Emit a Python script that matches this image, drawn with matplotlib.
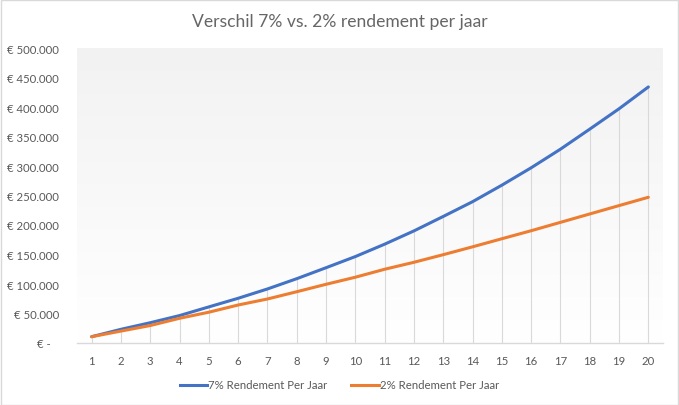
import numpy as np
import matplotlib
matplotlib.use("Agg")
import matplotlib.pyplot as plt
from matplotlib.colors import LinearSegmentedColormap
from matplotlib.lines import Line2D
from matplotlib.patches import Rectangle

years = list(range(1, 21))
rend_7 = [10700, 23200, 34400, 46500, 61200, 75800, 91600, 109000, 127600, 146500,
          167500, 190000, 214500, 239500, 267500, 297000, 328500, 362500, 397000, 434000]
rend_2 = [10700, 20200, 29600, 41900, 52200, 64400, 74600, 86900, 99500, 111500,
          125000, 136800, 149700, 163000, 176700, 190300, 204500, 218700, 232900, 247000]
series_names = ["7% Rendement Per Jaar", "2% Rendement Per Jaar"]
title = "Verschil 7% vs. 2% rendement per jaar"
y_ticks = list(range(0, 500001, 50000))

plt.rcParams['font.family'] = ['Lato', 'DejaVu Sans']
txt = '#595959'

W, H = 679, 406
fig = plt.figure(figsize=(W / 100, H / 100), dpi=100)
fig.patch.set_facecolor('white')
ax = fig.add_axes([77 / W, (H - 344) / H, 586 / W, (344 - 49) / H])

# gradient background
grad = np.linspace(0, 1, 256).reshape(-1, 1)
cmap = LinearSegmentedColormap.from_list('g', ['#ffffff', '#f2f2f2'])
ax.imshow(grad, extent=[0.5, 20.5, 500000, 0], aspect='auto', cmap=cmap,
          origin='upper', zorder=0, interpolation='bilinear')

top = np.maximum(rend_7, rend_2)
ax.vlines(years, 0, top, color='#d9d9d9', lw=0.8, zorder=1)

ax.plot(years, rend_7, color='#4472C4', lw=2.2, zorder=3, solid_capstyle='round')
ax.plot(years, rend_2, color='#ED7D31', lw=2.2, zorder=3, solid_capstyle='round')

ax.set_xlim(0.5, 20.5)
ax.set_ylim(0, 500000)
ax.set_xticks(years)
ax.set_xticklabels([str(y) for y in years])
ax.set_yticks(y_ticks)

def fmt(v):
    if v == 0:
        return '€ -   '
    return '€ ' + f'{int(v):,}'.replace(',', '.')

ax.set_yticklabels([fmt(v) for v in y_ticks])
ax.tick_params(axis='both', length=0, labelsize=8.2, colors=txt)
ax.tick_params(axis='y', pad=13)
ax.tick_params(axis='x', pad=9)
for s in ['top', 'right', 'left']:
    ax.spines[s].set_visible(False)
ax.spines['bottom'].set_color('#d9d9d9')
ax.spines['bottom'].set_linewidth(1)
ax.set_facecolor('none')

fig.text(0.5, 1 - 22 / H, title, ha='center', va='center', fontsize=12.6, color='#666666')

handles = [Line2D([], [], color='#4472C4', lw=2.2),
           Line2D([], [], color='#ED7D31', lw=2.2)]
fig.legend(handles, series_names, loc='center', bbox_to_anchor=(0.5, 1 - 386 / H),
           ncol=2, frameon=False, fontsize=8.2, labelcolor=txt, handlelength=2.4,
           handletextpad=0.1, columnspacing=2.1)

fig.add_artist(Rectangle((0.5 / W, 0.5 / H), 1 - 1.5 / W, 1 - 1.5 / H,
                         transform=fig.transFigure, fill=False,
                         edgecolor='#d9d9d9', lw=1))

fig.savefig('out.png', dpi=100, facecolor='white')
